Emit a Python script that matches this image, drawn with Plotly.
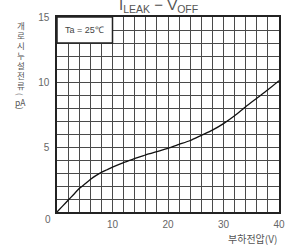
import plotly.graph_objects as go

# Data
v_off = [0, 1, 2, 3, 4, 5, 6, 7, 8, 9, 10, 12, 14, 16, 18, 20, 22, 24, 26, 28, 30, 32, 34, 36, 38, 40]
i_leak = [0, 0.45, 0.9, 1.35, 1.8, 2.15, 2.5, 2.8, 3.05, 3.25, 3.45, 3.8, 4.1, 4.4, 4.65, 4.9,
          5.2, 5.5, 5.9, 6.3, 6.8, 7.4, 8.1, 8.75, 9.4, 10.1]

x_ticks = [10, 20, 30, 40]
y_ticks = [5, 10, 15]

y_label_chars = ["개", "로", "시", "누", "설", "전", "류", "(", "pA", ")"]

KR = "Noto Sans CJK KR"
LAT = "Liberation Sans"
GRID = "#4a4a4a"
TICKC = "#666666"

W, H = 290, 247
ML, MR, MT, MB = 57, 5, 17, 35

fig = go.Figure()
fig.add_trace(go.Scatter(x=v_off, y=i_leak, mode="lines",
                         line=dict(color="#111111", width=1.3, shape="spline", smoothing=0.6),
                         hoverinfo="skip", showlegend=False))

fig.update_layout(
    width=W, height=H,
    margin=dict(l=ML, r=MR, t=MT, b=MB),
    paper_bgcolor="white", plot_bgcolor="white",
    showlegend=False,
    xaxis=dict(range=[0, 40], tickvals=x_ticks, showgrid=True, gridcolor=GRID, gridwidth=1,
               minor=dict(dtick=2, tick0=0, showgrid=True, gridcolor=GRID, gridwidth=1),
               zeroline=False, showline=True, linecolor="#222", linewidth=1.5, mirror=True,
               ticks="", tickfont=dict(family=LAT, size=10, color=TICKC), ticklabelstandoff=2),
    yaxis=dict(range=[0, 15], tickvals=y_ticks, showgrid=True, gridcolor=GRID, gridwidth=1,
               minor=dict(dtick=1, tick0=0, showgrid=True, gridcolor=GRID, gridwidth=1),
               zeroline=False, showline=True, linecolor="#222", linewidth=1.5, mirror=True,
               ticks="", tickfont=dict(family=LAT, size=10, color=TICKC), ticklabelstandoff=4),
)

# Ta box
fig.add_shape(type="rect", xref="x", yref="y", x0=0, x1=10, y0=13, y1=15,
              fillcolor="white", line=dict(color="#222", width=1.5), layer="above")
fig.add_annotation(x=5, y=14, xref="x", yref="y", text="Ta = 25℃", showarrow=False,
                   font=dict(family=LAT, size=9, color="#444"))

# Title
fig.add_annotation(x=0.456, y=1, xref="paper", yref="paper", yanchor="bottom", yshift=0,
                   text="I<sub>LEAK</sub> − V<sub>OFF</sub>", showarrow=False,
                   font=dict(family=LAT, size=15, color="#555"))

# corner 0
fig.add_annotation(x=0, y=0, xref="x", yref="y", text="0", showarrow=False,
                   xshift=-9, yshift=-7, font=dict(family=LAT, size=10, color=TICKC))

# x label
fig.add_annotation(x=1, y=0, xref="paper", yref="paper", xanchor="right", yanchor="top",
                   yshift=-17, text="부하전압(V)", showarrow=False,
                   font=dict(family=KR, size=10, color="#555"))

# y label (stacked vertical, one glyph per line)
label_centers = [25, 35, 45, 55, 65, 75, 85, 95, 102, 109]  # pixel rows
ph = H - MT - MB
for ch, yc in zip(y_label_chars, label_centers):
    rot = 90 if ch in ("(", ")") else 0
    fig.add_annotation(x=(20 - ML) / (W - ML - MR), y=1 - (yc - MT) / ph,
                       xref="paper", yref="paper", xanchor="center", yanchor="middle",
                       text=ch, textangle=rot, showarrow=False,
                       font=dict(family=KR, size=8.5 if rot == 0 else 8, color="#555"))

fig.write_html("out.html", config={"displayModeBar": False},
               post_script="document.body.style.margin='0';")
